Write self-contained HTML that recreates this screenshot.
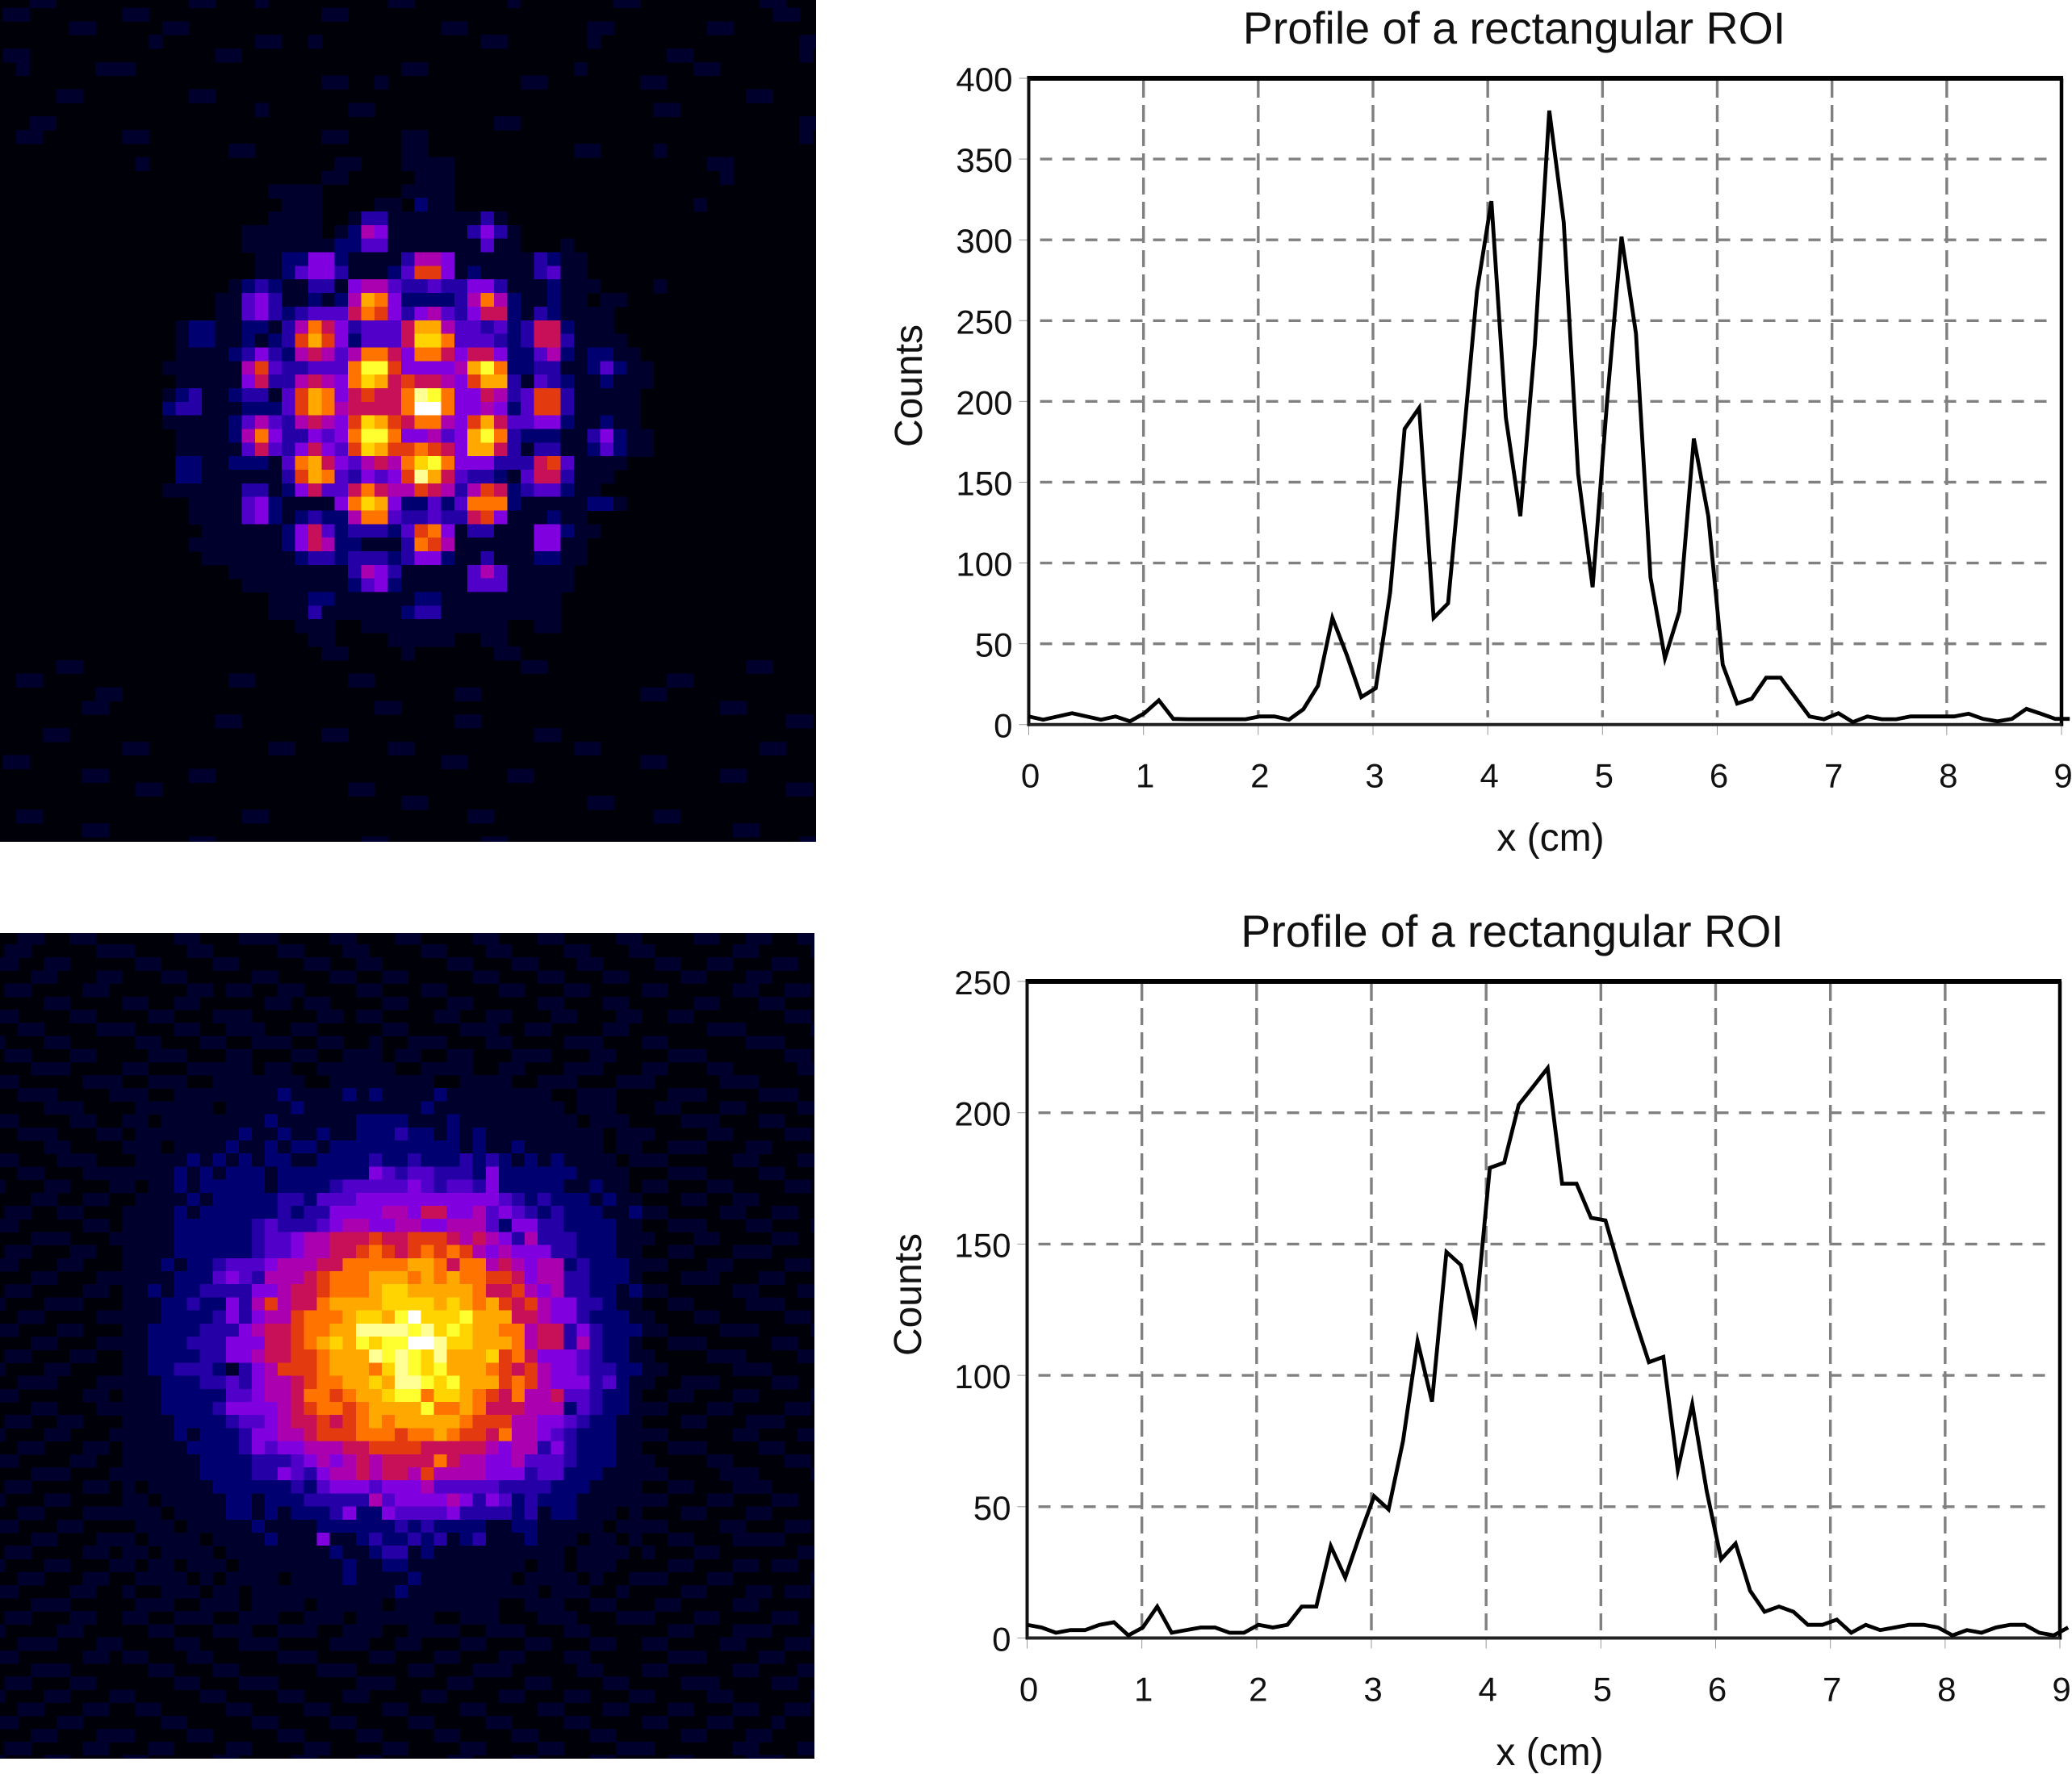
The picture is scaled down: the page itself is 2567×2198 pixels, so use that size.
<!DOCTYPE html>
<html lang="en">
<head>
<meta charset="utf-8">
<title>Profile of a rectangular ROI</title>
<style>
html,body{margin:0;padding:0;background:#fff;width:2567px;height:2198px;overflow:hidden}
svg{display:block;font-family:"Liberation Sans",Arial,sans-serif}
</style>
</head>
<body>
<svg id="figure" xmlns="http://www.w3.org/2000/svg" width="2567" height="2198" viewBox="0 0 2567 2198">
  <rect width="2567" height="2198" fill="#ffffff"/>
  <svg id="heatTop" x="0" y="0" width="1011" height="1043" viewBox="0 0 1011 1043"><rect width="1011" height="1043" fill="#000008"/></svg>
  <svg id="heatBottom" x="0" y="1156" width="1009" height="1023" viewBox="0 0 1009 1023"><rect width="1009" height="1023" fill="#000008"/></svg>
  <g id="chartTop"></g>
  <g id="chartBottom"></g>
</svg>
<script>
const sampleStepCm = 0.126;
const xTickLabels = [0,1,2,3,4,5,6,7,8,9];
const topYTickLabels = [0,50,100,150,200,250,300,350,400];
const bottomYTickLabels = [0,50,100,150,200,250];
const profileTopCounts = [5,3,5,7,5,3,5,2,7,15,3.5,3.3,3.3,3.3,3.3,3.3,5,5,3,9.5,24,66,43,17,22.5,82,183,196,66,75,170,268,324,190,129,235,380,311,155,85,200,302,242,91,41,70,177,129,37,13,16,29,29,17,5,3.3,7,1.5,5,3.3,3.3,5,5,5,5,6.7,3.5,2,3.5,9.7,6.7,3.5,3.5];
const profileBottomCounts = [5,4,2,3,3,5,6,1,4,12,2,3,4,4,2,2,5,4,5,12,12,35,23,39,54,49,75,113,90,147,142,121,179,181,203,210,217,173,173,160,159,140,122,105,107,64,89,56,30,36,18,10,12,10,5,5,7,2,5,3,4,5,5,4,1,3,2,4,5,5,2,1,4];

/* Heatmap intensity levels, one hex digit per pixel (0 = black ... e = white), spaces are ignored */
const heatTopRows = [
"0001100000000 0011000100 0000000110 0000001000 0000110000 0000011000",
"0110000000110 0000000000 0011000000 0000000000 0000000000 0000001100",
"0000001100000 1100000000 0000000000 0110000000 0011000000 0110000000",
"0000000000001 0000000110 0100000000 0000110000 0010000000 0000000011",
"0110000000000 0000110000 0000000000 0000000000 0000000011 0000000010",
"0010000011100 0000000000 0000000011 0000000000 0100000000 1100000000",
"0000000000000 0000000000 0011001000 0000000110 0000001100 0000000000",
"0000011000000 0011000000 0000000000 0000000000 0000000000 0000110000",
"0000000000000 0000000100 0000110000 0000000000 0000000110 0000000000",
"0001100000000 0000000000 0000000000 0000011000 0000000000 0000000011",
"0011000000110 0000000000 0011000011 0000000000 0000000000 0000000010",
"0000000000000 0000011000 0000000011 0000000000 0110000100 0000000000",
"0000000000010 0000000000 0001100011 1100000000 0000000000 0110000000",
"0000000000000 0000000000 0011000001 1100000000 0000000000 0010000000",
"0000000000000 0000000011 1100000011 1100000000 0000000000 0000000000",
"0000000000000 0000000001 1100001102 1100000000 0000000000 1000000000",
"0000000000000 0000000011 1100133111 1111310000 0000000000 0000000000",
"0000000000000 0000001111 1101265111 1113531000 0000000000 0000000000",
"0000000000000 0000001111 1112244111 1111411000 1000000000 0000000000",
"0000000000000 0000000112 2552111136 6511111132 1100000000 0000000000",
"0000000000000 0000000112 4553111248 8512111134 1100000000 0000000000",
"0000000000000 0000012321 1331566433 4335531112 1110000100 0000000000",
"0000000000000 0000114531 12126a9522 2236962112 1101100000 0000000000",
"0000000000000 0000114532 3444798535 6435772132 1111000000 0000000000",
"0000000000000 0122112213 697534447a a644342377 2111000000 0000000000",
"0000000000000 0122112123 8a8524447b b944432377 3111100000 0000000000",
"0000000000000 0111123532 6764699759 9757752246 2122110000 0000000000",
"0000000000000 1111116843 34449cc855 556ac92233 1124211000 0000000000",
"0000000000000 0111115733 67659ba787 7658aa3143 2112111000 0000000000",
"0000000000000 1231123314 8a9578779d c955763488 3111110000 0000000000",
"0000000000000 2331112224 8a9677779e e955652488 3111110000 0000000000",
"0000000000000 1111124643 67658ba879 9658a74455 2112110000 0000000000",
"0000000000000 0111126953 35459cc955 645ac93222 1135211000 0000000000",
"0000000000000 0111114743 57548ba889 875aa73133 1124211000 0000000000",
"0000000000000 0221122214 9a7546769b c955533378 4111100000 0000000000",
"0000000000000 0221111113 8a9435458d a743321477 3111000000 0000000000",
"0000000000000 1111113312 5744797668 7636872344 2110000000 0000000000",
"0000000000000 0011114521 11159ba522 4249992111 1122100000 0000000000",
"0000000000000 0011114521 2322699433 4337851112 1100000000 0000000000",
"0000000000000 0001111112 5742333248 9513311155 2110000000 0000000000",
"0000000000000 0011111112 5762211139 8611111155 1100000000 0000000000",
"0000000000000 0001111111 2332333235 5211311122 1100000000 0000000000",
"0000000000000 0000011111 1111365311 1114641111 1000000000 0000000000",
"0000000000000 0000001111 1111245211 1114441111 1000000000 0000000000",
"0000000000000 0000000011 1221111112 2111111111 0000000000 0000000000",
"0000000000000 0000000011 1311111123 3111111111 0000000000 0000000000",
"0000000000000 0000000000 1110011111 1111110011 0000000000 0000000000",
"0000000000000 0000000000 0110000111 1100110000 0000000000 0000000000",
"0000000000000 0000000000 0011000010 0000011000 0000000000 0000000000",
"0000011000000 0000000000 0000000000 0000000110 0000000000 0000110000",
"0011000000000 0000011000 0000110000 0000000000 0000000011 0000000000",
"0000000011000 0000000000 0000000000 0011000000 0000001100 0000000000",
"0000000110000 0000000000 0000001100 0000000000 0000000000 0011000000",
"0000000000000 0000110000 0000000000 0011000000 0000000000 0000000110",
"0000110000000 0000000000 0011000000 0000000011 0000000000 0000000000",
"0000000000110 0000000011 0000000110 0000000000 0110000000 0000011000",
"0110000000000 0000000000 0000000000 0110000000 0000001100 0000000000",
"0000000110000 0011000000 0000000000 0000001100 0000000000 0011000000",
"0000000000011 0000000000 0000110000 0000000000 0000000000 0000000110",
"0000000000000 0000000000 0000000011 0000000000 0011000000 0000000000",
"0011000000000 0000001100 0000000000 0001100000 0000000110 0000000000",
"0000000110000 0000000000 0000000000 0000000000 0000000000 0001100000",
"0000000000000 0011000000 0000011000 0000110000 0000000000 0000000011"
];
const heatBottomRows = [
"0011001100 0000110001 1100001100 0110000110 0011000011 0000110011 0011",
"0110000011 1000011000 0011000110 0001100011 0000110001 1000000110 0001",
"1100110000 0110000110 0000110011 0000011000 1100011000 0110011000 1100",
"0001100011 0001100000 1100001100 1100000110 0011000110 0001100011 0000",
"0110000110 0000011011 0011000011 0001100001 1000110000 1100000110 0110",
"0000110000 1100110000 0110110000 1100011000 0011000110 0000110001 1000",
"1100001100 0011000111 0000011011 0000110011 0001100011 0011000000 0110",
"0011000011 1000110011 1001100000 1100001110 0110000110 0000011100 0001",
"1000110000 0110001100 1110011001 0011100011 0000111000 1100000011 1000",
"0110001100 0011100011 0001100111 0110011000 1110001100 0011100000 0110",
"0001110000 1100011111 0110011111 1001111001 1000111000 1100011000 0011",
"1100000111 0011100111 1111001111 1111001111 0011100011 1000001110 0000",
"0011100001 1100111111 1121111212 1111211111 1110011100 0011100001 1100",
"0000111000 0111111011 1112111111 1112111111 1111011100 0110001100 0011",
"1100001100 1101111111 1211111122 2211121111 1111101110 0001110001 1000",
"0011100011 0111111112 1121121122 2322121211 1111111011 1000011000 0110",
"0000110000 1110111121 1212212222 2222221211 2111111011 0011100011 0000",
"1100011100 0111121212 1221122223 2232223232 1212111101 1100000110 0011",
"0011000111 1111212122 2122222225 4344333252 2222211110 0011100001 1000",
"1000110001 1011212222 2122223444 4454344352 2222112110 1100011000 0110",
"0001100110 0111121222 2233244455 5555555554 3232221211 0001100110 0000",
"0110011000 1111212222 2232335555 6657755645 4323222112 1100001100 1100",
"1100000110 1111222222 3433345665 5665566642 5533222211 0011100011 0001",
"0001110001 1111222222 3445667778 7788876765 3633322211 1000110000 1100",
"0110001100 1111222222 3445667789 8789898656 5553322211 0011000111 0000",
"1100011000 1112122344 4566677999 99aa979967 6566232221 1100011000 0110",
"0001100011 1111222454 366678999a aa9a9a9988 7566332221 0001110001 1000",
"0110000110 1121223333 556778999a bbaaaaa977 8656332212 1100000110 0011",
"1000111000 1112232253 686779aaaa bbbbaba9a8 7865533211 0011000011 1000",
"0011000011 1112222353 5668999abb acebbbcaaa 7765532221 1000110000 0110",
"1100011000 1122223335 677899aadd ddcdbcbaa9 9677353222 1100001110 0001",
"0001100011 1122233355 57789abacb cceedbbaaa 9677363221 0011100000 1100",
"0110001100 1122223355 677889aaad cdcbdaaab8 9755543221 1000011100 0011",
"1000110000 1122333213 568889aaa9 bdcbcaaa98 7865543322 1100000111 0000",
"0011100011 1112223343 5667899aab addcbcaaa8 9865553421 1001110000 1100",
"1100000110 1112222244 56679989aa bcc9bba987 9667443221 0011000110 0001",
"0001100011 1112222355 556789989a aaac99a977 7666243221 1100011000 0110",
"0110011000 1111222234 456778789a 9aaaaa9888 6655432211 0001100011 1000",
"1000110001 1111212223 5566788899 9899a98879 6654322211 1100000110 0011",
"0011000110 1111122223 5455666778 8887777765 6635322211 0011100001 1000",
"1100001100 1111112222 3334565676 7777976655 6444322211 1000011000 0110",
"0001110001 1111112222 3354356676 7768666655 5344222111 1100001110 0001",
"0110000110 1011111222 2223245554 5556444443 3332221111 0011000111 0000",
"1000110000 1101111122 1222333336 4555565354 2322211111 1100011000 1100",
"0011000111 1110111122 1212223522 5444453333 2312211101 0001100011 0000",
"1100011000 0111011111 2111122222 2323222211 2211111011 1100001100 0110",
"0001100011 1011110111 1211151123 2232312311 1211101101 0011000111 1000",
"0110000110 1101111011 1111112112 3312111111 1111011110 1000110000 0011",
"1000110001 1011011101 1111111211 2211111111 1011011100 0011000110 1100",
"0011000110 0111101011 1101111211 1121111111 0111101001 1100011000 0001",
"1100001100 1001110110 1111111111 1211111111 1101110010 0001100011 0110",
"0001110000 0111001110 1111011111 0111111110 0111001100 0110000110 0000",
"0110001100 1100111001 1100111011 1111001110 0011100011 1000110000 1100",
"1000011000 0011000111 0011100111 0011110011 1000110000 0011000111 0001",
"0011100011 0000110001 1100001110 0110001100 0110001100 1100001100 0110",
"1100000110 1100011000 0011100001 1000110001 1000110000 0011100001 1000",
"0001110000 0011000110 0000011100 0011000111 0000011000 1100000110 0011",
"0110001100 0000110001 1100000011 1000011000 0110000110 0001110000 1100",
"1000110001 1000001100 0011000110 0001100001 1000110001 1000011000 0001",
"0011000110 0110000011 0000110000 1100001100 0011000110 0011000110 0110",
"1100011000 0001100000 1100001100 0011000011 0000110000 1100011000 1000",
"0001100011 1000011000 0011000011 0000110000 1100001100 0001100011 0000",
"0110000110 0011000011 0000110000 1100001100 0011000011 1000000110 0011",
"1000110000 1100000110 0001100011 0000011000 1100001100 0011000011 1000"
];
const levelColors = ["#000008","#00002c","#000070","#2400a6","#5000c8","#8000e0","#aa00b0","#c81058","#e43a10","#ff7400","#ffa800","#ffd400","#ffff30","#ffff96","#ffffff"];

const SVGNS = "http://www.w3.org/2000/svg";
function mk(parent, tag, attrs) {
  const el = document.createElementNS(SVGNS, tag);
  for (const k in attrs) el.setAttribute(k, attrs[k]);
  parent.appendChild(el);
  return el;
}

function drawHeatmap(target, rows, x0, y0, cw, ch) {
  rows.forEach(function (row, r) {
    const cells = row.replace(/ /g, "");
    for (let c = 0; c < cells.length; c++) {
      const level = parseInt(cells[c], 16);
      if (!level) continue;
      const rect = mk(target, "rect", {
        x: (x0 + c * cw).toFixed(2), y: (y0 + r * ch).toFixed(2),
        width: (cw + 0.6).toFixed(2), height: (ch + 0.6).toFixed(2),
        fill: levelColors[level], "shape-rendering": "crispEdges"
      });
      
      
    }
  });
}
drawHeatmap(document.getElementById("heatTop"), heatTopRows, -13, -7.4, 16.45, 16.84);
drawHeatmap(document.getElementById("heatBottom"), heatBottomRows, -10, -2.2, 16.1, 16.2);

function drawChart(cfg) {
  const g = cfg.group;
  const xScale = function (v) { return cfg.left + (v / 9) * (cfg.right - cfg.left); };
  const yScale = function (v) { return cfg.bottom - (v / cfg.yMax) * (cfg.bottom - cfg.top); };

  const title = mk(g, "text", { x: cfg.titleX, y: cfg.titleY, "font-size": 55.5, "text-anchor": "middle", fill: "#111" });
  title.textContent = "Profile of a rectangular ROI";
  
  

  cfg.yTicks.forEach(function (t) {
    const y = yScale(t);
    if (t > 0 && t < cfg.yMax) {
      const gl = mk(g, "line", { x1: cfg.left + 2, x2: cfg.right - 14, y1: y, y2: y, stroke: "#808080", "stroke-width": 3.4, "stroke-dasharray": "15 13", "stroke-dashoffset": "-12" });
      
      
    }
    const tick = mk(g, "line", { x1: cfg.left - 12, x2: cfg.left, y1: y, y2: y, stroke: "#999", "stroke-width": 1 });
    
    
    const lab = mk(g, "text", { x: cfg.left - 20, y: y + 16, "font-size": 42, "text-anchor": "end", fill: "#111" });
    lab.textContent = t;
    
    
  });

  xTickLabels.forEach(function (t) {
    const x = xScale(t);
    if (t > 0 && t < 9) {
      const gl = mk(g, "line", { x1: x, x2: x, y1: cfg.top + 3, y2: cfg.bottom - 9, stroke: "#808080", "stroke-width": 3.4, "stroke-dasharray": "21 9" });
      
      
    }
    const tick = mk(g, "line", { x1: x, x2: x, y1: cfg.bottom, y2: cfg.bottom + 13, stroke: "#999", "stroke-width": 1 });
    
    
    const lab = mk(g, "text", { x: x + 2, y: cfg.bottom + 78, "font-size": 42, "text-anchor": "middle", fill: "#111" });
    lab.textContent = t;
    
    
  });

  const frameTop = mk(g, "line", { x1: cfg.left - 2, x2: cfg.right + 2, y1: cfg.top, y2: cfg.top, stroke: "#000", "stroke-width": 6 });
  
  
  const frameLeft = mk(g, "line", { x1: cfg.left, x2: cfg.left, y1: cfg.top, y2: cfg.bottom + 2, stroke: "#111", "stroke-width": 4 });
  
  
  const frameRight = mk(g, "line", { x1: cfg.right, x2: cfg.right, y1: cfg.top, y2: cfg.bottom + 2, stroke: "#000", "stroke-width": 4.5 });
  
  
  const frameBottom = mk(g, "line", { x1: cfg.left, x2: cfg.right, y1: cfg.bottom, y2: cfg.bottom, stroke: "#222", "stroke-width": 4 });
  
  

  const pts = cfg.values.map(function (v, i) { return xScale(i * sampleStepCm).toFixed(1) + "," + yScale(v).toFixed(1); }).join(" ");
  const line = mk(g, "polyline", { points: pts, fill: "none", stroke: "#000", "stroke-width": 4.8, "stroke-linejoin": "miter", "stroke-miterlimit": 6 });
  
  

  const yt = mk(g, "text", { x: 0, y: 0, "font-size": 48, "text-anchor": "middle", fill: "#111", transform: "translate(" + cfg.yTitleX + " " + cfg.yTitleY + ") rotate(-90)" });
  yt.textContent = "Counts";
  
  

  const xt = mk(g, "text", { x: cfg.xTitleX, y: cfg.xTitleY, "font-size": 48, "text-anchor": "middle", fill: "#111" });
  xt.textContent = "x (cm)";
  
  
}

drawChart({ group: document.getElementById("chartTop"), left: 1274.5, right: 2554, top: 97, bottom: 897.7, yMax: 400, yTicks: topYTickLabels, values: profileTopCounts, titleX: 1876, titleY: 54, yTitleX: 1142, yTitleY: 478, xTitleX: 1921, xTitleY: 1054 });
drawChart({ group: document.getElementById("chartBottom"), left: 1272.5, right: 2552, top: 1216, bottom: 2029.5, yMax: 250, yTicks: bottomYTickLabels, values: profileBottomCounts, titleX: 1873.5, titleY: 1173, yTitleX: 1141, yTitleY: 1604, xTitleX: 1920, xTitleY: 2187 });
</script>
</body>
</html>
